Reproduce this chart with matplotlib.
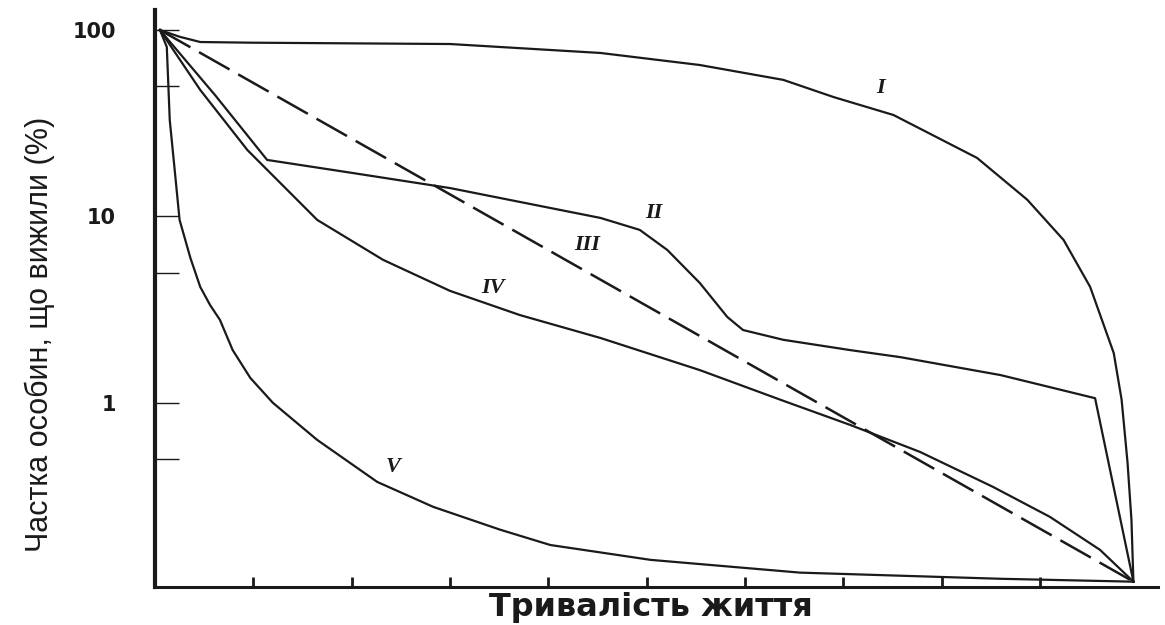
import numpy as np
import matplotlib
matplotlib.use('Agg')
import matplotlib.pyplot as plt

# survivorship curves (x = lifetime units, y = % survived)
x_I = [0.05, 0.25, 0.46, 0.97, 3.00, 4.53, 5.54, 6.39, 6.90, 7.51, 8.36, 8.87, 9.24, 9.51, 9.75, 9.83, 9.89, 9.93, 9.95]
y_I = [100, 92.0, 86.2, 85.5, 84.1, 75.3, 64.9, 54.0, 43.7, 35.0, 20.6, 12.3, 7.48, 4.19, 1.85, 1.04, 0.48, 0.236, 0.11]

x_II = [0.05, 0.61, 1.14, 1.98, 3.00, 4.53, 4.93, 5.21, 5.54, 5.82, 5.98, 6.39, 7.07, 7.58, 8.60, 9.56, 9.95]
y_II = [100, 44.8, 20.1, 17.2, 14.2, 9.82, 8.47, 6.61, 4.40, 2.89, 2.46, 2.18, 1.92, 1.76, 1.41, 1.06, 0.11]

x_III = [0.05, 9.95]
y_III = [100, 0.11]

x_IV = [0.05, 0.46, 0.94, 1.65, 2.32, 3.00, 3.71, 4.53, 5.54, 6.36, 7.07, 7.78, 8.52, 9.10, 9.61, 9.95]
y_IV = [100, 47.7, 22.7, 9.58, 5.85, 3.99, 2.96, 2.23, 1.50, 1.04, 0.762, 0.546, 0.355, 0.245, 0.163, 0.11]

x_V = [0.05, 0.12, 0.15, 0.20, 0.25, 0.36, 0.46, 0.56, 0.66, 0.79, 0.97, 1.20, 1.65, 2.26, 2.83, 3.51, 4.02, 5.04, 6.56, 8.60, 9.95]
y_V = [100, 81.1, 32.9, 17.8, 9.58, 5.99, 4.19, 3.35, 2.79, 1.92, 1.36, 1.0, 0.633, 0.377, 0.277, 0.209, 0.173, 0.144, 0.123, 0.114, 0.11]

curve_labels = ['I', 'II', 'III', 'IV', 'V']
label_x = [7.38, 5.07, 4.39, 3.44, 2.42]
label_y = [48.9, 10.4, 7.03, 4.14, 0.454]

y_ticks = [0.5, 1, 5, 10, 50, 100]
y_ticklabels = ['', '1', '', '10', '', '100']
x_ticks = [1, 2, 3, 4, 5, 6, 7, 8, 9]

ink = '#1a1a1a'

fig = plt.figure(figsize=(11.65, 6.25), dpi=100)
ax = fig.add_axes([155/1165, 1-587/625, 1003/1165, 577/625])

ax.plot(x_I, y_I, color=ink, lw=1.6)
ax.plot(x_II, y_II, color=ink, lw=1.6)
ax.plot(x_III, y_III, color=ink, lw=1.8, linestyle=(0, (14, 4)))
ax.plot(x_IV, y_IV, color=ink, lw=1.6)
ax.plot(x_V, y_V, color=ink, lw=1.6)

for lab, lx, ly in zip(curve_labels, label_x, label_y):
    ax.text(lx, ly, lab, family='Liberation Serif', style='italic', fontweight='bold',
            fontsize=16, color=ink, ha='center', va='center')

ax.set_yscale('log')
ax.set_xlim(0, 10.2)
ax.set_ylim(0.103, 128)

ax.set_yticks(y_ticks)
ax.set_yticklabels(y_ticklabels)
ax.yaxis.set_minor_locator(matplotlib.ticker.NullLocator())
ax.tick_params(axis='y', direction='in', length=17, width=1, pad=28, labelsize=15, colors=ink)
for t in ax.get_yticklabels():
    t.set_fontweight('bold')

ax.set_xticks(x_ticks)
ax.set_xticklabels([])
ax.tick_params(axis='x', direction='in', length=7, width=2, colors=ink)

for s in ['top', 'right']:
    ax.spines[s].set_visible(False)
ax.spines['left'].set_linewidth(3)
ax.spines['bottom'].set_linewidth(2.2)
ax.spines['left'].set_color(ink)
ax.spines['bottom'].set_color(ink)

ax.set_xlabel('Тривалість життя', fontsize=23, fontweight='bold', color=ink)
ax.xaxis.set_label_coords(0.494, -0.035)
ax.xaxis.label.set_va('center')

ax.set_ylabel('Частка особин, що вижили (%)', fontsize=22,
              family='Liberation Sans', color=ink)
ax.yaxis.set_label_coords(-0.115, 0.437)
ax.yaxis.label.set_va('center')

fig.savefig('out.png', dpi=100)
